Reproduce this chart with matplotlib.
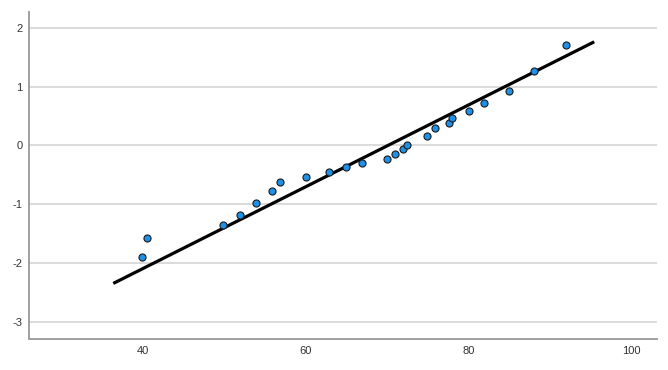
from matplotlib import pyplot as plt
import numpy as np

obs_x = [39.9, 40.5, 49.9, 52.0, 53.9, 55.9, 56.9, 60.0, 62.9, 65.0, 66.9,
         69.95, 70.9, 71.9, 72.4, 74.9, 75.9, 77.6, 77.9, 80.0, 81.9, 85.0,
         88.0, 91.9]
exp_z = [-1.90, -1.58, -1.35, -1.19, -0.99, -0.77, -0.63, -0.54, -0.46, -0.37,
         -0.30, -0.23, -0.15, -0.07, 0.00, 0.15, 0.30, 0.38, 0.46, 0.58, 0.72,
         0.93, 1.27, 1.71]
line_x = [36.4, 95.4]
line_y = [-2.35, 1.76]
xticks = [40, 60, 80, 100]
yticks = [-3, -2, -1, 0, 1, 2]

plt.rcParams.update({
    "font.family": "Liberation Sans",
    "font.size": 8,
    "axes.unicode_minus": False,
})

fig = plt.figure(figsize=(6.68, 3.70), dpi=100)
ax = fig.add_axes([0.0439, 0.0846, 0.9396, 0.8834])

for yv in yticks:
    ax.axhline(yv, color='#d4d4d4', linewidth=1.2, zorder=0)

ax.plot(line_x, line_y, color='black', linewidth=2.3, solid_capstyle='butt', zorder=2)
ax.scatter(obs_x, exp_z, s=26, color='#1e90e8', edgecolors='#1a1a1a',
           linewidths=0.8, zorder=3)

ax.set_xlim(26.1, 103.1)
ax.set_ylim(-3.29, 2.27)
ax.set_xticks(xticks)
ax.set_yticks(yticks)
ax.tick_params(length=0, colors='#333333', labelsize=8)
ax.tick_params(axis='x', pad=5)
ax.tick_params(axis='y', pad=5)

for s in ['top', 'right']:
    ax.spines[s].set_visible(False)
for s in ['left', 'bottom']:
    ax.spines[s].set_color('#a0a0a0')
    ax.spines[s].set_linewidth(1.4)

fig.savefig('out.png', dpi=100)
